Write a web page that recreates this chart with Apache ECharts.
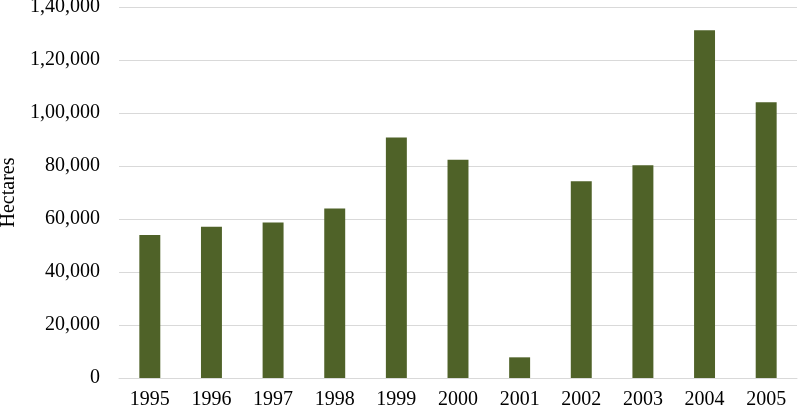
<!DOCTYPE html>
<html>
<head>
<meta charset="utf-8">
<script src="https://cdn.jsdelivr.net/npm/echarts@6/dist/echarts.min.js"></script>
<style>html,body{margin:0;padding:0;background:#fff}#c{width:800px;height:410px}</style>
</head>
<body>
<div id="c"></div>
<script>
const years = ['1995','1996','1997','1998','1999','2000','2001','2002','2003','2004','2005'];
const hectares = [54000, 57100, 58700, 64000, 90800, 82400, 7800, 74200, 80300, 131200, 104100];
const yTicks = [0, 20000, 40000, 60000, 80000, 100000, 120000, 140000];
const yTitle = 'Hectares';

function indianFormat(v) {
  const s = String(Math.round(v));
  if (s.length <= 3) return s;
  const last3 = s.slice(-3);
  let rest = s.slice(0, -3);
  const parts = [];
  while (rest.length > 2) { parts.unshift(rest.slice(-2)); rest = rest.slice(0, -2); }
  if (rest.length) parts.unshift(rest);
  return parts.join(',') + ',' + last3;
}

const font = 'Liberation Serif, Times New Roman, serif';
const chart = echarts.init(document.getElementById('c'), null, {renderer: 'canvas'});
chart.setOption({
  animation: false,
  grid: {left: 119, right: 3, top: 7, bottom: 32, containLabel: false, outerBoundsMode: 'none'},
  xAxis: {
    type: 'category',
    data: years,
    axisLine: {show: true, lineStyle: {color: '#d9d9d9', width: 1}},
    axisTick: {show: false},
    axisLabel: {color: '#000', fontFamily: font, fontSize: 20, margin: 12}
  },
  yAxis: {
    type: 'value',
    min: yTicks[0],
    max: yTicks[yTicks.length - 1],
    interval: yTicks[1] - yTicks[0],
    name: yTitle,
    nameLocation: 'middle',
    nameGap: 100,
    nameTextStyle: {color: '#000', fontFamily: font, fontSize: 20},
    axisLine: {show: false},
    axisTick: {show: false},
    splitLine: {lineStyle: {color: '#d9d9d9', width: 1}},
    axisLabel: {color: '#000', fontFamily: font, fontSize: 20, margin: 19, formatter: indianFormat}
  },
  series: [{
    type: 'bar',
    data: hectares,
    barWidth: '34%',
    itemStyle: {color: '#4F6228'}
  }]
});
</script>
</body>
</html>
